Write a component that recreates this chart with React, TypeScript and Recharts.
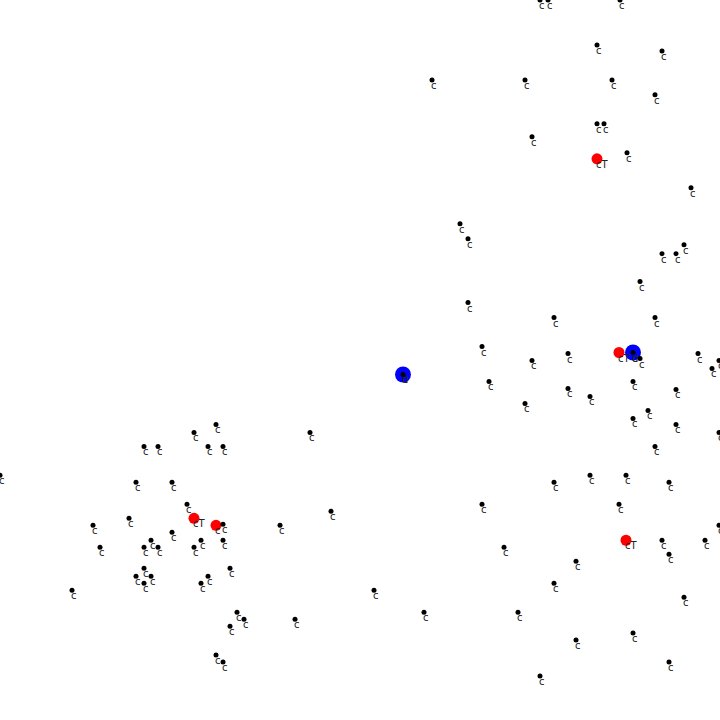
import React from 'react';
import { ScatterChart, Scatter, XAxis, YAxis, ZAxis } from 'recharts';

// node positions (x right, y down)
const commonX = [540, 548, 620, 597, 662, 432, 525, 612, 655, 597, 604, 532, 627, 691, 460, 468, 684, 662, 676, 640, 468, 554, 655, 482, 568, 532, 698, 719, 712, 640, 403, 633, 489, 633, 568, 590, 676, 525, 648, 633, 676, 719, 655, 310, 216, 194, 144, 158, 208, 223, 0, 136, 172, 554, 590, 626, 669, 482, 619, 187, 223, 129, 93, 331, 280, 719, 172, 151, 201, 223, 100, 144, 158, 194, 662, 705, 504, 669, 576, 144, 230, 136, 151, 208, 201, 144, 72, 374, 554, 684, 237, 244, 230, 295, 424, 518, 633, 576, 216, 223, 669, 540];
const commonY = [-1, -1, -1, 44, 50, 79, 79, 79, 94, 123, 123, 136, 152, 187, 223, 238, 244, 253, 253, 281, 302, 317, 317, 346, 353, 360, 353, 360, 368, 358, 374, 352, 381, 381, 388, 396, 389, 403, 410, 418, 424, 432, 446, 432, 424, 432, 446, 446, 446, 446, 475, 482, 482, 482, 475, 475, 482, 504, 504, 504, 524, 518, 525, 511, 525, 525, 532, 540, 540, 540, 547, 547, 547, 547, 540, 540, 547, 554, 561, 568, 568, 576, 576, 576, 583, 583, 590, 590, 583, 597, 612, 619, 626, 619, 612, 612, 633, 640, 655, 662, 662, 676];

const ctX = [597, 619, 194, 626, 216];
const ctY = [158, 352, 518, 540, 525];
const ctLabels = ['cT', 'cT', 'cT', 'cT', 'c'];

const dX = [403, 633];
const dY = [374, 352];
const dLabels = ['d', 'd'];

const commonData = commonX.map((x, i) => ({ x, y: commonY[i], label: 'c' }));
const ctData = ctX.map((x, i) => ({ x, y: ctY[i], label: ctLabels[i] }));
const dData = dX.map((x, i) => ({ x, y: dY[i], label: dLabels[i] }));

const labelStyle = { fontFamily: 'DejaVu Sans, sans-serif', fontSize: 10, fill: '#222' };

const makeNode = (r: number, color: string) => (props: any) => {
  const { cx, cy, payload } = props;
  if (cx == null || cy == null) return null;
  return (
    <g>
      <circle cx={cx} cy={cy} r={r} fill={color} />
      <text x={cx - 1} y={cy + 9} style={labelStyle}>{payload.label}</text>
    </g>
  );
};

export default function App() {
  return (
    <div style={{ position: 'fixed', left: 0, top: 0, width: 720, height: 720, background: '#fff' }}>
      <ScatterChart width={720} height={720} margin={{ top: 0, right: 0, bottom: 0, left: 0 }}>
        <XAxis type="number" dataKey="x" domain={[0, 720]} hide />
        <YAxis type="number" dataKey="y" domain={[0, 720]} reversed hide />
        <ZAxis range={[20, 20]} />
        <Scatter data={dData} shape={makeNode(8, '#0000ff')} isAnimationActive={false} />
        <Scatter data={ctData} shape={makeNode(5.5, '#ff0000')} isAnimationActive={false} />
        <Scatter data={commonData} shape={makeNode(2.5, '#000')} isAnimationActive={false} />
      </ScatterChart>
    </div>
  );
}
